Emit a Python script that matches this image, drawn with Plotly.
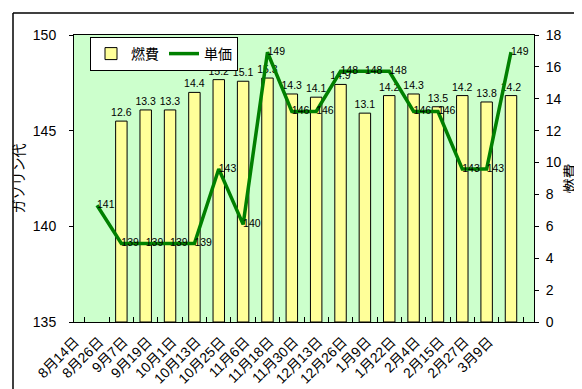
import plotly.graph_objects as go

categories = ["8月14日", "8月26日", "9月7日", "9月19日", "10月1日", "10月13日", "10月25日",
              "11月6日", "11月18日", "11月30日", "12月13日", "12月26日", "1月9日", "1月22日",
              "2月4日", "2月15日", "2月27日", "3月9日"]
fuel_economy = [None, 12.6, 13.3, 13.3, 14.4, 15.2, 15.1, 15.3, 14.3, 14.1, 14.9, 13.1,
                14.2, 14.3, 13.5, 14.2, 13.8, 14.2]
unit_price = [141.1, 139.1, 139.1, 139.1, 139.1, 143.0, 140.1, 149.1, 146.0, 146.0, 148.1,
              148.1, 148.1, 146.0, 146.0, 143.0, 143.0, 149.1]

FONT = "Liberation Sans, Arial, Noto Sans CJK JP"
W, H = 582, 389
PL, PR, PT, PB = 66, 526, 27, 314   # plot area in pixels

fig = go.Figure()
fig.add_trace(go.Bar(
    x=categories, y=fuel_economy, name="燃費", yaxis="y",
    marker=dict(color="#FFFF99", line=dict(color="black", width=1)),
    text=[("" if v is None else f"{v:.1f}") for v in fuel_economy],
    textposition="outside", constraintext="none",
    textfont=dict(size=10.5, color="black", family=FONT),
    cliponaxis=False,
))
fig.add_trace(go.Scatter(
    x=categories, y=unit_price, name="単価", yaxis="y2", mode="lines+text",
    line=dict(color="#008000", width=3.5),
    texttemplate="%{y:.0f}", textposition="middle right",
    textfont=dict(size=10.5, color="black", family=FONT),
    cliponaxis=False,
))

border = [(5, 5, 577, 5), (577, 5, 577, 384), (577, 384, 5, 384), (5, 384, 5, 5)]
shapes = [dict(type="line", xref="paper", yref="paper",
               x0=a / W, y0=1 - b / H, x1=c / W, y1=1 - d / H,
               line=dict(color="black", width=1.5), layer="above")
          for a, b, c, d in border]

fig.update_layout(
    width=W, height=H,
    margin=dict(l=0, r=0, t=0, b=0, autoexpand=False),
    paper_bgcolor="white", plot_bgcolor="#CCFFCC",
    font=dict(family=FONT, size=13, color="black"),
    bargap=0.53,
    showlegend=True,
    legend=dict(orientation="h", x=82 / W, y=1 - 29 / H,
                xanchor="left", yanchor="top",
                bgcolor="white", bordercolor="black", borderwidth=1,
                font=dict(size=14, family=FONT), traceorder="normal",
                itemwidth=30),
    xaxis=dict(type="category", domain=[PL / W, PR / W], automargin=False,
               showline=True, linecolor="black", linewidth=1, mirror=True,
               ticks="inside", tickson="boundaries", ticklen=5, tickcolor="black",
               tickangle=-45, tickfont=dict(size=14, family=FONT), showgrid=False,
               ticklabelshift=-22, ticklabelstandoff=5),
    yaxis=dict(side="right", range=[0, 18], dtick=2, domain=[1 - PB / H, 1 - PT / H],
               automargin=False, showgrid=False, zeroline=False,
               showline=True, linecolor="black", linewidth=1, mirror=True,
               ticks="outside", ticklen=4, tickcolor="black",
               tickfont=dict(size=14, family=FONT), ticklabelstandoff=4,
               title=dict(text="燃費", font=dict(size=15, family=FONT), standoff=1)),
    yaxis2=dict(side="left", overlaying="y", range=[135, 150], dtick=5, showgrid=False,
                automargin=False, zeroline=False, showline=True, linecolor="black",
                linewidth=1, ticks="outside", ticklen=4, tickcolor="black",
                tickfont=dict(size=14, family=FONT), ticklabelstandoff=10,
                title=dict(text="ガソリン代", font=dict(size=14, family=FONT), standoff=4)),
    shapes=shapes,
)

fig.write_html("out.html")
